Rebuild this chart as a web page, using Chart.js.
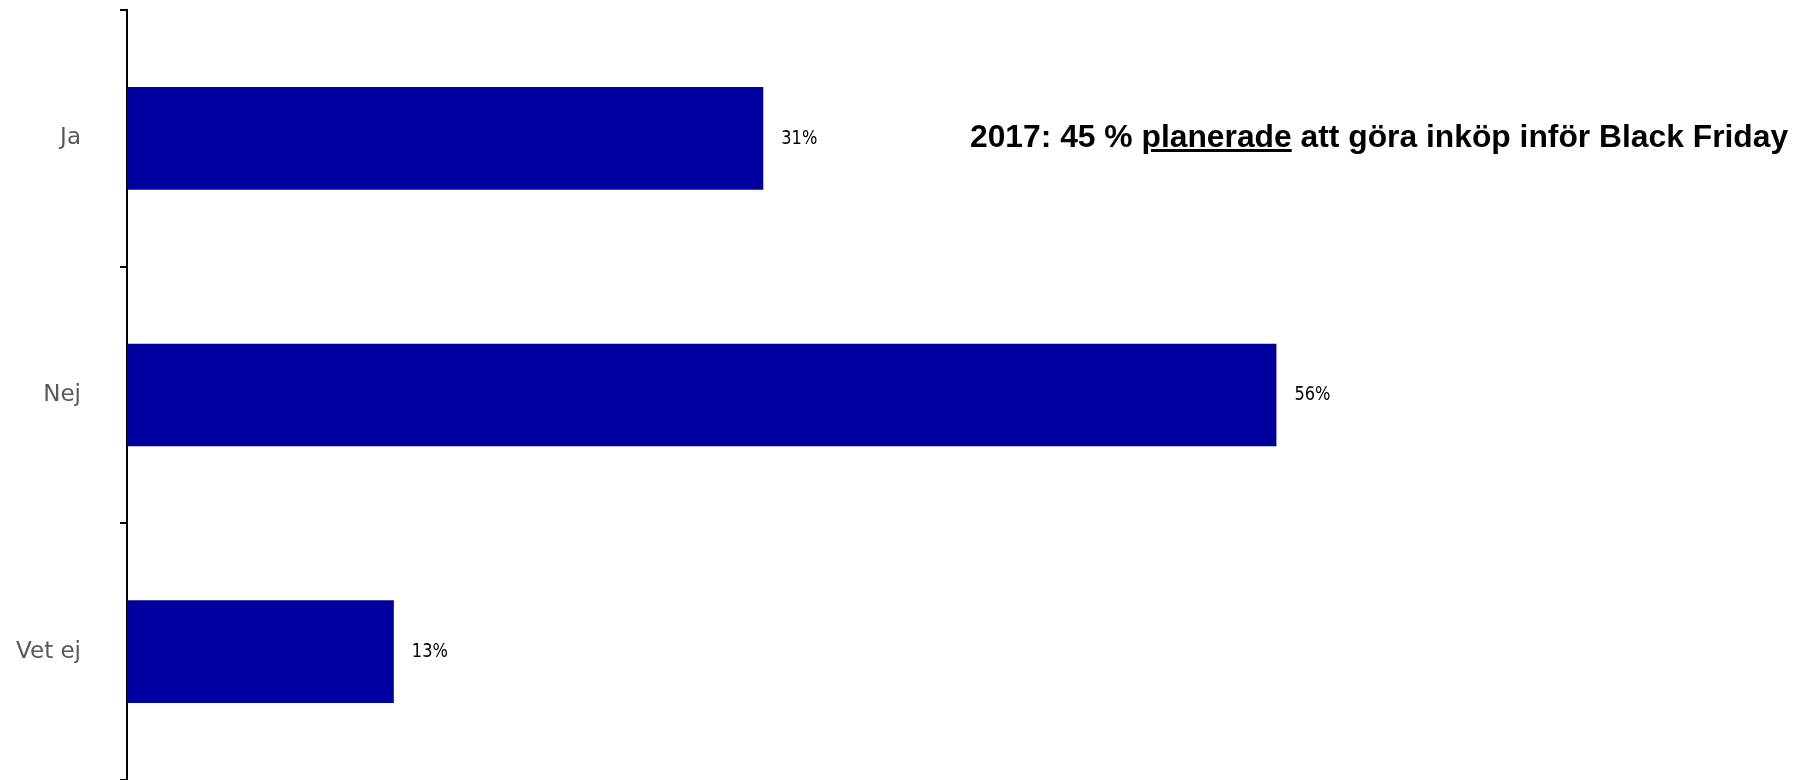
<!DOCTYPE html>
<html>
<head>
<meta charset="utf-8">
<script src="https://cdn.jsdelivr.net/npm/chart.js@4"></script>
<style>
  body { margin: 0; background: #fff; }
  #wrap { position: relative; width: 1799px; height: 780px; }
  .note {
    position: absolute; left: 970px; top: 118px;
    font-family: "Liberation Sans", Arial, sans-serif; font-weight: bold;
    font-size: 31.8px; color: #000; white-space: nowrap;
  }
</style>
</head>
<body>
<div id="wrap">
  <canvas id="chart"></canvas>
  <div class="note">2017: 45 % <u>planerade</u> att göra inköp inför Black Friday</div>
</div>
<script>
const categories = ["Ja", "Nej", "Vet ej"]
const values = [31, 56, 13]

// draws "31%" etc. right of each bar, a bit narrow like the original
const valueLabels = {
    id: 'valueLabels',
    afterDatasetsDraw(chart) {
        const ctx = chart.ctx
        const meta = chart.getDatasetMeta(0)
        meta.data.forEach((bar, i) => {
            ctx.save()
            ctx.translate(bar.x + 18, bar.y)
            ctx.scale(0.9, 1)
            ctx.font = '20px "DejaVu Sans Condensed", "DejaVu Sans", sans-serif'
            ctx.fillStyle = '#000'
            ctx.textBaseline = 'middle'
            ctx.fillText(values[i] + '%', 0, 0)
            ctx.restore()
        })
    }
}

new Chart(document.getElementById('chart'), {
    type: 'bar',
    data: {
        labels: categories,
        datasets: [{
            data: values,
            backgroundColor: '#0000A0',
            categoryPercentage: 1,
            barPercentage: 0.4
        }]
    },
    options: {
        indexAxis: 'y',
        responsive: true,
        maintainAspectRatio: false,
        animation: false,
        layout: { padding: { top: 10, right: 30, bottom: -2, left: 0 } },
        plugins: { legend: { display: false }, tooltip: { enabled: false } },
        scales: {
            x: { display: false, min: 0, max: 80 },
            y: {
                afterFit: scale => {
                    scale.width = 127
                    scale.paddingTop = 0
                    scale.paddingBottom = 0
                },
                border: { color: '#000', width: 2 },
                grid: { drawOnChartArea: false, drawTicks: true, tickLength: 7, color: '#000', lineWidth: 2 },
                ticks: {
                    padding: 39,
                    color: '#595959',
                    font: { family: '"DejaVu Sans", sans-serif', size: 23 }
                }
            }
        }
    },
    plugins: [valueLabels]
})
</script>
</body>
</html>
